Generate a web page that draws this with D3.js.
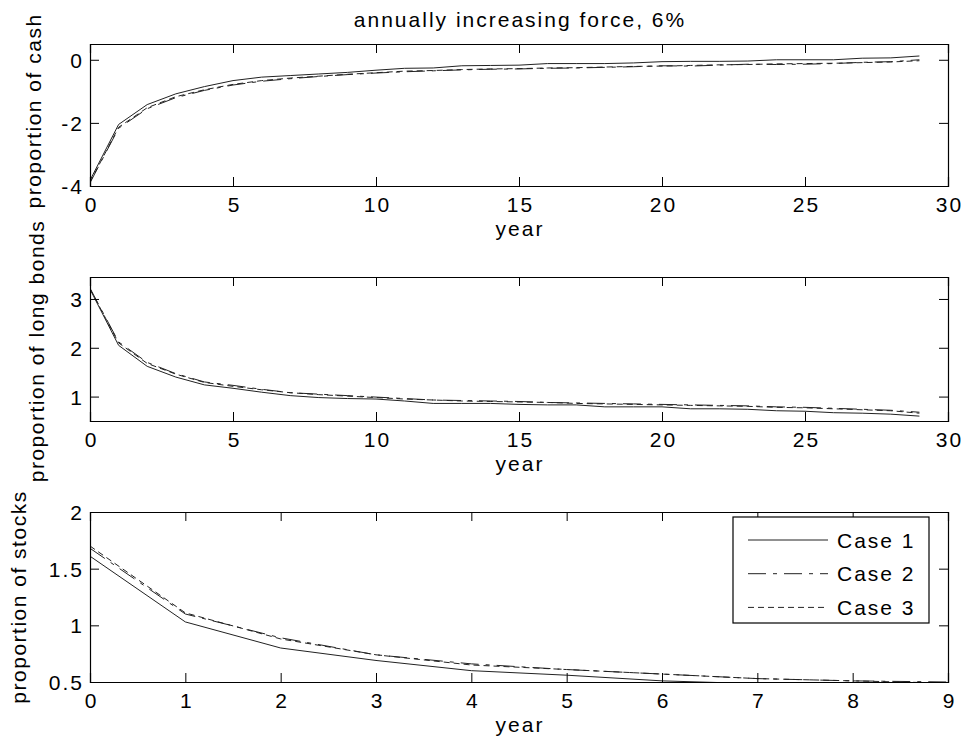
<!DOCTYPE html>
<html lang="en">
<head>
<meta charset="UTF-8">
<title>annually increasing force, 6%</title>
<script src="https://cdnjs.cloudflare.com/ajax/libs/d3/7.8.5/d3.min.js"></script>
<style>
    body { margin: 0; background: #fff; }
    svg text { font-family: "Liberation Sans", Arial, sans-serif; fill: #000; letter-spacing: 2px; }
    svg text.ylabel { letter-spacing: 1.5px; }
</style>
</head>
<body>
<svg width="965" height="748"></svg>
<script>
    // ---- data ----
    const years30 = d3.range(0, 30);
    const years10 = d3.range(0, 10);

    const cashCase1 = [-3.82, -2.05, -1.42, -1.08, -0.85, -0.66, -0.55, -0.5, -0.45, -0.4,
        -0.33, -0.27, -0.26, -0.19, -0.18, -0.17, -0.12, -0.12, -0.12, -0.1,
        -0.06, -0.05, -0.05, -0.04, 0.0, 0.0, 0.0, 0.05, 0.06, 0.12];
    const cashCase2 = [-3.9, -2.17, -1.55, -1.2, -0.97, -0.8, -0.68, -0.6, -0.53, -0.47,
        -0.42, -0.38, -0.35, -0.32, -0.3, -0.29, -0.27, -0.26, -0.24, -0.22,
        -0.19, -0.2, -0.17, -0.14, -0.15, -0.14, -0.12, -0.08, -0.06, 0.0];
    const cashCase3 = [-3.88, -2.14, -1.52, -1.17, -0.95, -0.78, -0.66, -0.58, -0.52, -0.46,
        -0.41, -0.36, -0.34, -0.31, -0.29, -0.28, -0.26, -0.25, -0.23, -0.21,
        -0.2, -0.18, -0.16, -0.15, -0.13, -0.12, -0.11, -0.09, -0.07, -0.03];

    const bondsCase1 = [3.2, 2.05, 1.62, 1.4, 1.24, 1.17, 1.09, 1.02, 0.98, 0.96,
        0.95, 0.91, 0.86, 0.86, 0.86, 0.84, 0.83, 0.83, 0.79, 0.79,
        0.79, 0.75, 0.75, 0.74, 0.71, 0.7, 0.67, 0.66, 0.64, 0.6];
    const bondsCase2 = [3.22, 2.12, 1.7, 1.47, 1.3, 1.23, 1.15, 1.08, 1.05, 1.02,
        0.99, 0.96, 0.93, 0.92, 0.91, 0.9, 0.88, 0.87, 0.86, 0.85,
        0.84, 0.83, 0.82, 0.81, 0.79, 0.78, 0.76, 0.74, 0.72, 0.68];
    const bondsCase3 = [3.21, 2.1, 1.68, 1.46, 1.29, 1.21, 1.14, 1.08, 1.04, 1.01,
        0.98, 0.95, 0.93, 0.91, 0.9, 0.89, 0.88, 0.86, 0.85, 0.84,
        0.83, 0.82, 0.81, 0.8, 0.78, 0.77, 0.75, 0.73, 0.71, 0.66];

    const stocksCase1 = [1.61, 1.03, 0.8, 0.69, 0.6, 0.56, 0.51, 0.485, 0.46, 0.44];
    const stocksCase2 = [1.68, 1.1, 0.89, 0.74, 0.66, 0.61, 0.57, 0.53, 0.51, 0.5];
    const stocksCase3 = [1.7, 1.11, 0.88, 0.74, 0.65, 0.61, 0.57, 0.53, 0.51, 0.49];

    const caseNames = ["Case 1", "Case 2", "Case 3"];
    const caseDash = [null, "18,7,4,7", "6,4"];

    const cashTicks = [-4, -2, 0];
    const bondsTicks = [1, 2, 3];
    const stocksTicks = [0.5, 1, 1.5, 2];

    const svg = d3.select("svg");
    const left = 90, right = 948;
    const fontSize = 21;

    const panels = [
        { top: 44, bottom: 186, xDomain: [0, 30], xTicks: d3.range(0, 31, 5), x: years30,
          yDomain: [-4, 0.5], yTicks: cashTicks, ylabel: "proportion of cash", labelX: 41, labelY: 111,
          series: [cashCase1, cashCase2, cashCase3] },
        { top: 277, bottom: 421, xDomain: [0, 30], xTicks: d3.range(0, 31, 5), x: years30,
          yDomain: [0.5, 3.45], yTicks: bondsTicks, ylabel: "proportion of long bonds", labelX: 44, labelY: 351,
          series: [bondsCase1, bondsCase2, bondsCase3] },
        { top: 512, bottom: 682, xDomain: [0, 9], xTicks: d3.range(0, 10), x: years10,
          yDomain: [0.5, 2], yTicks: stocksTicks, ylabel: "proportion of stocks", labelX: 26, labelY: 597,
          series: [stocksCase1, stocksCase2, stocksCase3], legend: true }
    ];

    panels.forEach((p, i) => {
        const x = d3.scaleLinear().domain(p.xDomain).range([left, right]);
        const y = d3.scaleLinear().domain(p.yDomain).range([p.bottom, p.top]);
        const g = svg.append("g");

        g.append("clipPath").attr("id", "clip" + i)
            .append("rect")
            .attr("x", left).attr("y", p.top)
            .attr("width", right - left).attr("height", p.bottom - p.top);

        const line = d3.line().x((d, j) => x(p.x[j])).y(d => y(d));
        p.series.forEach((s, k) => {
            g.append("path")
                .datum(s)
                .attr("clip-path", `url(#clip${i})`)
                .attr("d", line)
                .attr("fill", "none")
                .attr("stroke", "#222")
                .attr("stroke-width", 1)
                .attr("stroke-dasharray", caseDash[k]);
        });

        // axes, ticks pointing inward, mirrored on top / right
        const tl = 9;
        const fmt = d => String(d);
        const bottomAxis = g.append("g").attr("transform", `translate(0,${p.bottom})`)
            .call(d3.axisBottom(x).tickValues(p.xTicks).tickSize(-tl).tickPadding(11).tickFormat(fmt));
        const topAxis = g.append("g").attr("transform", `translate(0,${p.top})`)
            .call(d3.axisTop(x).tickValues(p.xTicks).tickSize(-tl).tickFormat(""));
        const leftAxis = g.append("g").attr("transform", `translate(${left},0)`)
            .call(d3.axisLeft(y).tickValues(p.yTicks).tickSize(-tl).tickPadding(6).tickFormat(fmt));
        const rightAxis = g.append("g").attr("transform", `translate(${right},0)`)
            .call(d3.axisRight(y).tickValues(p.yTicks).tickSize(-tl).tickFormat(""));

        [bottomAxis, topAxis, leftAxis, rightAxis].forEach(a => {
            a.select(".domain").attr("stroke", "#000").attr("stroke-width", 1.2);
            a.selectAll(".tick line").attr("stroke", "#000");
            a.selectAll("text").attr("font-size", fontSize)
                .attr("font-family", "Liberation Sans, Arial, sans-serif").attr("fill", "#000");
        });
        bottomAxis.selectAll("text").attr("dy", "0.72em").attr("dx", 1);
        leftAxis.selectAll("text").attr("dy", "0.36em");

        g.append("text")
            .attr("x", (left + right) / 2 + 1).attr("y", p.bottom + 50)
            .attr("text-anchor", "middle").attr("font-size", fontSize)
            .text("year");

        g.append("text")
            .attr("class", "ylabel")
            .attr("transform", `translate(${p.labelX},${p.labelY}) rotate(-90)`)
            .attr("text-anchor", "middle").attr("font-size", fontSize)
            .text(p.ylabel);

        if (p.legend) {
            const lg = g.append("g");
            lg.append("rect")
                .attr("x", 733).attr("y", 517).attr("width", 196).attr("height", 106)
                .attr("fill", "#fff").attr("stroke", "#000").attr("stroke-width", 1.2);
            caseNames.forEach((name, k) => {
                const ry = 540 + k * 33.7;
                lg.append("line")
                    .attr("x1", 748).attr("x2", 828).attr("y1", ry).attr("y2", ry)
                    .attr("stroke", "#222").attr("stroke-width", 1)
                    .attr("stroke-dasharray", caseDash[k]);
                lg.append("text")
                    .attr("x", 837).attr("y", ry).attr("dy", "0.36em")
                    .attr("font-size", fontSize).text(name);
            });
        }
    });

    svg.append("text")
        .attr("x", (left + right) / 2 + 1).attr("y", 27)
        .attr("text-anchor", "middle").attr("font-size", fontSize)
        .text("annually increasing force, 6%");
</script>
</body>
</html>
